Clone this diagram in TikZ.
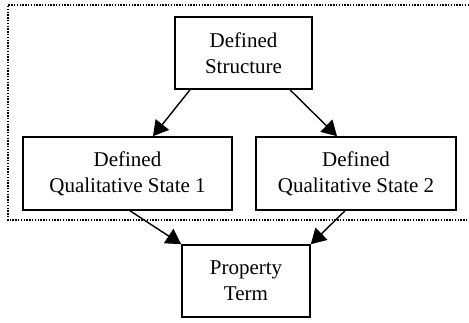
\documentclass[tikz,border=0pt]{standalone}
\usepackage{fontspec}
\setmainfont{Liberation Serif}
\usetikzlibrary{arrows.meta}
\begin{document}
\begin{tikzpicture}[x=1pt,y=-1pt,
  box/.style={draw, line width=1.6pt, align=center, inner sep=0pt,
    font=\fontsize{21}{25.7}\selectfont},
  arr/.style={line width=1.4pt, -{Triangle[length=15pt,width=17pt]}},
  group/.style={line width=1.3pt, dash pattern=on 1.4pt off 1.4pt}]
\useasboundingbox (0,0) rectangle (469,322);
\draw[group] (469,5) -- (8,5) -- (8,220) -- (469,220);
\node[box, minimum width=137pt, minimum height=72pt] (ds) at (243.5,53) {Defined\\Structure};
\node[box, minimum width=209pt, minimum height=73pt] (q1) at (127.5,173.5) {Defined\\Qualitative State 1};
\node[box, minimum width=200pt, minimum height=73pt] (q2) at (356,173.5) {Defined\\Qualitative State 2};
\node[box, minimum width=128pt, minimum height=72pt] (pt) at (246,281) {Property\\Term};
\draw[arr] ([xshift=-53.5pt]ds.south) -- ([xshift=25.5pt]q1.north);
\draw[arr] ([xshift=46.5pt]ds.south) -- ([xshift=-19pt]q2.north);
\draw[arr] ([xshift=2.5pt]q1.south) -- (pt.north west);
\draw[arr] ([xshift=-11pt]q2.south) -- (pt.north east);
\end{tikzpicture}
\end{document}
